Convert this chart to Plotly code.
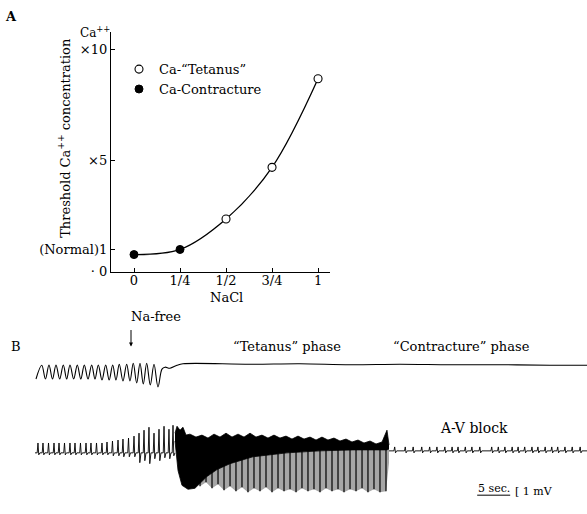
import plotly.graph_objects as go

W, H = 587, 514
FONT = "DejaVu Serif"

# ---------------- Panel A data ----------------
nacl_ticks = [0, 0.25, 0.5, 0.75, 1.0]
nacl_ticktext = ["0", "1/4", "1/2", "3/4", "1"]
ca_tickvals = [0, 1, 5, 10]
ca_ticktext = ["· 0", "(Normal)1", "×5", "×10"]

contracture_nacl = [0.0, 0.25]
contracture_ca = [0.77, 1.0]
tetanus_nacl = [0.5, 0.75, 1.0]
tetanus_ca = [2.37, 4.69, 8.67]

# ---------------- Panel B data (time in s, amplitude in arbitrary units) ----------------
mech_t = [0.15, 1.02, 1.58, 2.12, 2.65, 3.18, 3.74, 4.29, 4.80, 5.30, 5.86, 6.41, 6.94, 7.47,
          8.03, 8.59, 9.09, 9.59, 10.15, 10.71, 11.24, 11.77, 12.27, 12.77, 13.33, 13.89,
          14.39, 14.89, 15.41, 15.91, 16.41, 16.92, 17.47, 18.03, 18.64, 19.24, 19.70, 20.45,
          21.52, 22.42, 32.58, 40.15, 47.73, 55.30, 62.88, 70.45, 78.03, 83.64]
mech_v = [12.9, 14.3, 12.9, 14.33, 12.9, 14.33, 12.9, 14.33, 12.9, 14.33, 12.9, 14.33, 12.9, 14.33,
          12.9, 14.33, 12.9, 14.33, 12.8, 14.33, 12.8, 14.33, 12.8, 14.4, 12.7, 14.4,
          12.7, 14.5, 12.5, 14.5, 12.4, 14.5, 12.3, 14.4, 12.1, 13.9, 14.1, 14.0,
          14.3, 14.45, 14.4, 14.45, 14.35, 14.4, 14.35, 14.35, 14.3, 14.3]

ecg_base = 5.4
ecg_beat_t = [0.45, 1.21, 2.05, 2.88, 3.64, 4.47, 5.30, 6.06, 6.89, 7.73, 8.48, 9.32, 10.15,
              10.91, 11.74, 12.58, 13.33, 14.17, 15.0,
              15.76, 16.52, 17.27, 18.03, 18.79, 19.55, 20.30, 20.91]
ecg_beat_up = [6.4, 6.4, 6.4, 6.4, 6.4, 6.4, 6.4, 6.4, 6.4, 6.4, 6.4, 6.4, 6.4,
               6.5, 6.6, 6.7, 6.8, 6.9, 7.1,
               7.4, 7.7, 8.0, 7.4, 7.8, 8.1, 7.8, 8.2]
ecg_beat_dn = [5.2, 5.2, 5.2, 5.2, 5.2, 5.2, 5.2, 5.2, 5.2, 5.2, 5.2, 5.2, 5.2,
               5.2, 5.1, 5.1, 5.0, 5.0, 5.0,
               4.4, 4.6, 4.3, 4.8, 4.6, 4.9, 4.8, 5.1]

burst_top_t = [21.21, 21.52, 21.97, 22.42, 22.88, 23.48, 24.39, 25.30, 26.21, 27.12, 28.03,
               28.94, 29.85, 30.76, 31.67, 32.58, 33.48, 34.39, 35.30, 36.21, 37.12, 38.03,
               38.94, 39.85, 40.76, 41.67, 42.58, 43.48, 44.39, 45.30, 46.21, 47.12, 48.03,
               48.94, 49.85, 50.76, 51.67, 52.58, 53.33, 53.64]
burst_top_v = [7.4, 8.1, 7.7, 8.0, 7.2, 7.3, 7.0, 7.2, 6.9, 7.3, 7.0,
               7.4, 7.0, 7.3, 7.0, 7.4, 7.0, 7.2, 6.9, 7.2, 6.9, 7.1,
               6.8, 7.1, 6.8, 7.0, 6.7, 7.0, 6.7, 6.9, 6.6, 6.8, 6.5,
               6.7, 6.4, 6.6, 6.3, 6.5, 7.7, 6.2]
burst_solid_t = [21.21, 21.67, 22.27, 23.18, 24.24, 25.0, 26.06, 27.58, 29.55, 33.03, 38.18,
                 43.18, 48.18, 53.33, 53.64]
burst_solid_v = [6.6, 3.6, 2.1, 1.7, 1.8, 2.3, 3.0, 3.7, 4.3, 5.0, 5.4,
                 5.6, 5.7, 5.7, 5.8]
burst_spike_t = [25.0, 25.91, 26.82, 27.73, 28.64, 29.55, 30.45, 31.36, 32.27, 33.18, 34.09,
                 35.0, 35.91, 36.82, 37.73, 38.64, 39.55, 40.45, 41.36, 42.27, 43.18, 44.09,
                 45.0, 45.91, 46.82, 47.73, 48.64, 49.55, 50.45, 51.36, 52.27, 53.18, 53.64]
burst_spike_v = [2.0, 2.4, 1.8, 2.2, 1.6, 2.0, 1.5, 1.9, 1.4, 1.8, 1.5,
                 1.9, 1.4, 1.8, 1.5, 1.7, 1.4, 1.8, 1.5, 1.7, 1.4, 1.8,
                 1.5, 1.7, 1.4, 1.7, 1.5, 1.8, 1.4, 1.7, 1.4, 1.5, 4.4]

av_base = 5.6
av_beat_t = [54.5, 56.1, 57.3, 58.6, 59.8, 60.9, 62.1, 63.2, 64.1, 65.2, 66.2, 67.4, 69.2,
             70.2, 71.2, 72.3, 73.2, 74.2, 75.3, 76.2, 77.3, 78.3, 79.2, 80.3, 81.4, 82.6]
av_beat_up = [6.0] * 26
av_beat_dn = [5.4] * 26

scale_bar_t = [67.0, 72.0]
scale_bar_v = [1.1, 1.1]


# ---------------- helpers (pixel position -> paper fraction) ----------------
def px(x):
    return x / W


def py(y):
    return 1 - y / H


def beats(ts, ups, dns, base, t_start, t_end):
    xs, ys = [t_start], [base]
    for t, u, d in zip(ts, ups, dns):
        xs += [t - 0.12, t, t + 0.12, t + 0.3]
        ys += [base, u, d, base]
    xs.append(t_end)
    ys.append(base)
    return xs, ys


fig = go.Figure()

# Panel A
curve_x = contracture_nacl + tetanus_nacl
curve_y = contracture_ca + tetanus_ca
fig.add_trace(go.Scatter(x=curve_x, y=curve_y, mode="lines",
                         line=dict(color="black", width=1.3, shape="spline", smoothing=1.0),
                         showlegend=False, hoverinfo="skip", xaxis="x", yaxis="y"))
fig.add_trace(go.Scatter(x=tetanus_nacl, y=tetanus_ca, mode="markers", name="Ca-“Tetanus”",
                         marker=dict(symbol="circle", size=8, color="white", line=dict(color="black", width=1.1)),
                         xaxis="x", yaxis="y"))
fig.add_trace(go.Scatter(x=contracture_nacl, y=contracture_ca, mode="markers", name="Ca-Contracture",
                         marker=dict(symbol="circle", size=8, color="black", line=dict(color="black", width=1)),
                         xaxis="x", yaxis="y"))

# Panel B
fig.add_trace(go.Scatter(x=mech_t, y=mech_v, mode="lines",
                         line=dict(color="black", width=1.1, shape="spline", smoothing=1.0),
                         showlegend=False, hoverinfo="skip", xaxis="x2", yaxis="y2"))
ex, ey = beats(ecg_beat_t, ecg_beat_up, ecg_beat_dn, ecg_base, 0.0, burst_top_t[0])
fig.add_trace(go.Scatter(x=ex, y=ey, mode="lines", line=dict(color="black", width=0.9),
                         showlegend=False, hoverinfo="skip", xaxis="x2", yaxis="y2"))
fig.add_trace(go.Scatter(x=burst_top_t, y=burst_top_v, mode="lines", line=dict(color="black", width=0.8),
                         showlegend=False, hoverinfo="skip", xaxis="x2", yaxis="y2"))
fig.add_trace(go.Scatter(x=burst_solid_t, y=burst_solid_v, mode="lines", line=dict(color="black", width=0.8),
                         fill="tonexty", fillcolor="black", showlegend=False, hoverinfo="skip",
                         xaxis="x2", yaxis="y2"))
fig.add_trace(go.Scatter(x=burst_solid_t[5:], y=burst_solid_v[5:], mode="lines", line=dict(color="black", width=0),
                         showlegend=False, hoverinfo="skip", xaxis="x2", yaxis="y2"))
fig.add_trace(go.Scatter(x=burst_spike_t, y=burst_spike_v, mode="lines", line=dict(color="rgba(0,0,0,0)", width=0),
                         fill="tonexty", fillcolor="rgba(0,0,0,0.35)", showlegend=False, hoverinfo="skip",
                         xaxis="x2", yaxis="y2"))
# vertical striations of the burst
sx, sy = [], []
for t, v in zip(burst_spike_t[:-1], burst_spike_v[:-1]):
    sx += [t, t, None]
    sy += [6.0, v, None]
fig.add_trace(go.Scatter(x=sx, y=sy, mode="lines", line=dict(color="black", width=1.2),
                         showlegend=False, hoverinfo="skip", xaxis="x2", yaxis="y2"))
ax_, ay_ = beats(av_beat_t, av_beat_up, av_beat_dn, av_base, burst_top_t[-1], 83.64)
fig.add_trace(go.Scatter(x=ax_, y=ay_, mode="lines", line=dict(color="black", width=0.9),
                         showlegend=False, hoverinfo="skip", xaxis="x2", yaxis="y2"))
fig.add_trace(go.Scatter(x=scale_bar_t, y=scale_bar_v, mode="lines", line=dict(color="black", width=1.0),
                         showlegend=False, hoverinfo="skip", xaxis="x2", yaxis="y2"))

tick_font = dict(family=FONT, size=13, color="black")
fig.update_layout(
    width=W, height=H, autosize=False,
    margin=dict(l=0, r=0, t=0, b=0),
    paper_bgcolor="white", plot_bgcolor="rgba(0,0,0,0)",
    font=dict(family=FONT, color="black"),
    xaxis=dict(domain=[px(111), px(330)], range=[-0.125, 1.065], anchor="y",
               showline=True, linecolor="black", linewidth=1.3, ticks="inside", ticklen=4,
               tickcolor="black", tickvals=nacl_ticks, ticktext=nacl_ticktext, tickfont=tick_font,
               ticklabelstandoff=-3,
               showgrid=False, zeroline=False, fixedrange=True),
    yaxis=dict(domain=[py(276), py(33)], range=[0, 10.75], anchor="x",
               showline=True, linecolor="black", linewidth=1.3, ticks="inside", ticklen=4,
               tickcolor="black", tickvals=ca_tickvals, ticktext=ca_ticktext, tickfont=tick_font,
               showgrid=False, zeroline=False, fixedrange=True),
    xaxis2=dict(domain=[0, 1], range=[-35 / 6.6, (W - 35) / 6.6], anchor="y2", visible=False),
    yaxis2=dict(domain=[0, py(330)], range=[0, 18.4], anchor="x2", visible=False),
    showlegend=True,
    legend=dict(x=px(119), y=py(55), xanchor="left", yanchor="top", bgcolor="rgba(0,0,0,0)",
                traceorder="normal",
                font=dict(family=FONT, size=13, color="black"), itemwidth=30, tracegroupgap=0),
)

ann = [
    dict(text="<b>A</b>", x=px(11), y=py(17), size=13),
    dict(text="Ca<sup>++</sup>", x=px(95), y=py(33), size=12),
    dict(text="NaCl", x=px(226), y=py(302), size=13),
    dict(text="B", x=px(16), y=py(352), size=13),
    dict(text="Na-free", x=px(156), y=py(322), size=13),
    dict(text="“Tetanus” phase", x=px(287), y=py(352), size=13),
    dict(text="“Contracture” phase", x=px(462), y=py(352), size=13),
    dict(text="A-V block", x=px(474), y=py(435), size=14),
    dict(text="5 sec.", x=px(494), y=py(496), size=11),
    dict(text="[ 1 mV", x=px(534), y=py(499), size=11),
]
annotations = []
for a in ann:
    annotations.append(dict(text=a["text"], x=a["x"], y=a["y"], xref="paper", yref="paper",
                            showarrow=False, xanchor="center", yanchor="middle",
                            font=dict(family=FONT, size=a["size"], color="black")))
annotations.append(dict(text="Threshold Ca<sup>++</sup> concentration", x=px(64), y=py(140),
                        xref="paper", yref="paper", showarrow=False, textangle=-90,
                        xanchor="center", yanchor="middle",
                        font=dict(family=FONT, size=13, color="black")))
annotations.append(dict(text="", x=px(131), y=py(352), xref="paper", yref="paper",
                        showarrow=True, ax=0, ay=-18, arrowhead=2, arrowsize=0.8,
                        arrowwidth=1, arrowcolor="black"))
fig.update_layout(annotations=annotations)

fig.write_html("out.html", config={"displayModeBar": False},
               post_script="document.body.style.margin='0px';document.body.style.overflow='hidden';")
